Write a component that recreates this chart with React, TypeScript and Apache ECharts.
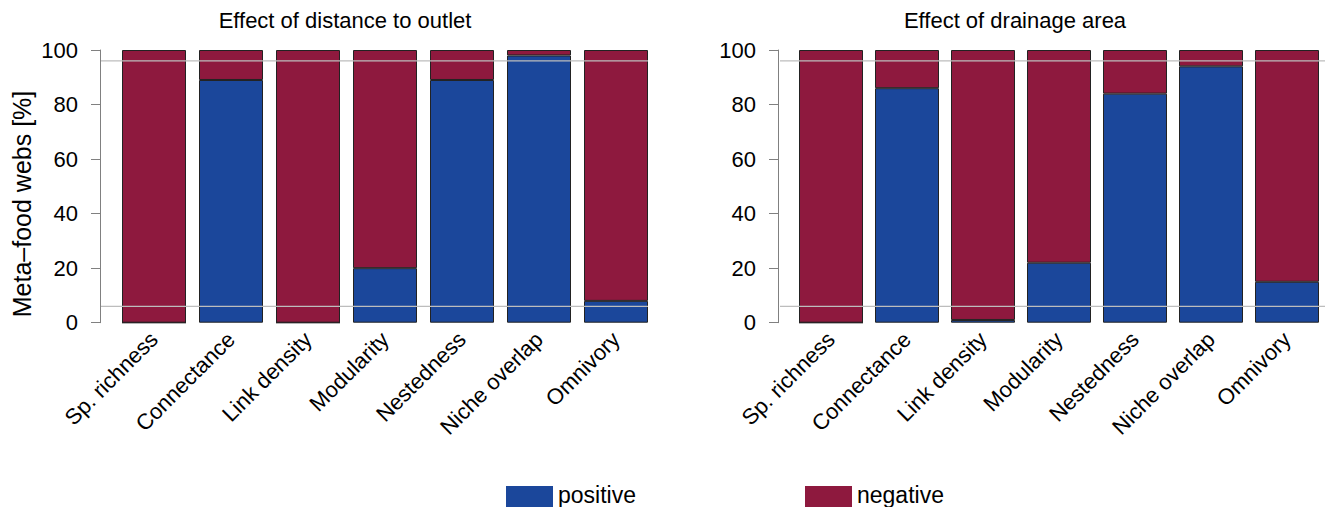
import React, { useEffect, useRef } from "react";
import * as echarts from "echarts";

const categories = [
  "Sp. richness",
  "Connectance",
  "Link density",
  "Modularity",
  "Nestedness",
  "Niche overlap",
  "Omnivory",
];

const distancePositive = [0, 89, 0, 20, 89, 98, 8];
const distanceNegative = [100, 11, 100, 80, 11, 2, 92];

const drainagePositive = [0, 86, 1, 22, 84, 94, 15];
const drainageNegative = [100, 14, 99, 78, 16, 6, 85];

const refLineValues = [96, 6];

const yTicks = { min: 0, max: 100, interval: 20 };

const titles = ["Effect of distance to outlet", "Effect of drainage area"];
const yAxisTitle = "Meta–food webs [%]";

const FONT = "'Liberation Sans', Arial, Helvetica, sans-serif";
const BLUE = "#1B479B";
const RED = "#8E193E";

// legend swatch: a 47x30 box, with an invisible zero-area mark above it so the
// label sits a little higher than the box centre (as in the reference)
const LEGEND_ICON = "path://M23,-12 L24,-12 L23.5,-12 Z M0,0 L47,0 L47,30 L0,30 Z";

export default function App() {
  const ref = useRef<HTMLDivElement>(null);

  useEffect(() => {
    if (!ref.current) return;
    const chart = echarts.init(ref.current, null, { renderer: "svg" });

    const plotTop = 50;
    const plotHeight = 272.7;

    const mainGrids = [
      { left: 115.5, top: plotTop, width: 539, height: plotHeight },
      { left: 793, top: plotTop, width: 539, height: plotHeight },
    ];
    const lineGrids = [
      { left: 101, top: plotTop, width: 547, height: plotHeight },
      { left: 780, top: plotTop, width: 545, height: plotHeight },
    ];

    const catAxis = (gridIndex: number) => ({
      type: "category",
      gridIndex,
      data: categories,
      axisLine: { show: false },
      axisTick: { show: false },
      axisLabel: {
        rotate: 45,
        margin: 13,
        fontSize: 22,
        fontFamily: FONT,
        color: "#000",
        interval: 0,
      },
    });

    const valAxis = (gridIndex: number, offset: number) => ({
      type: "value",
      gridIndex,
      min: yTicks.min,
      max: yTicks.max,
      interval: yTicks.interval,
      offset,
      splitLine: { show: false },
      axisLine: { show: true, lineStyle: { color: "#808080", width: 1 } },
      axisTick: { show: true, length: 9, lineStyle: { color: "#808080", width: 1 } },
      axisLabel: { margin: 22, fontSize: 22, fontFamily: FONT, color: "#000" },
    });

    const hiddenX = (gridIndex: number) => ({
      type: "value",
      gridIndex,
      min: 0,
      max: 1,
      show: false,
    });
    const hiddenY = (gridIndex: number) => ({
      type: "value",
      gridIndex,
      min: yTicks.min,
      max: yTicks.max,
      show: false,
    });

    const barStyle = (color: string) => ({
      color,
      borderColor: "#222",
      borderWidth: 1,
    });

    const barSeries = (
      name: string,
      data: number[],
      axisIndex: number,
      stack: string,
      color: string
    ) => ({
      name,
      type: "bar",
      stack,
      xAxisIndex: axisIndex,
      yAxisIndex: axisIndex,
      data,
      barWidth: 64,
      itemStyle: barStyle(color),
      z: 2,
    });

    const refSeries: any[] = [];
    [2, 3].forEach((axisIndex) => {
      refLineValues.forEach((v) => {
        refSeries.push({
          name: "ref",
          type: "line",
          xAxisIndex: axisIndex,
          yAxisIndex: axisIndex,
          data: [
            [0, v],
            [1, v],
          ],
          symbol: "none",
          silent: true,
          lineStyle: { color: "#bdbdbd", width: 1.2 },
          z: 5,
        });
      });
    });

    const legendCommon = {
      top: 469,
      itemWidth: 47,
      itemHeight: 42,
      icon: LEGEND_ICON,
      selectedMode: false,
      itemStyle: { borderWidth: 0 },
      textStyle: {
        fontSize: 23,
        fontFamily: FONT,
        color: "#000",
      },
    };

    const option: any = {
      animation: false,
      backgroundColor: "#fff",
      title: [
        {
          text: titles[0],
          left: 340,
          top: 4,
          textAlign: "center",
          textStyle: { fontSize: 22, fontWeight: "normal", fontFamily: FONT, color: "#000" },
        },
        {
          text: titles[1],
          left: 1010,
          top: 4,
          textAlign: "center",
          textStyle: { fontSize: 22, fontWeight: "normal", fontFamily: FONT, color: "#000" },
        },
      ],
      legend: [
        { ...legendCommon, data: ["positive"], left: 501 },
        { ...legendCommon, data: ["negative"], left: 800 },
      ],
      grid: [...mainGrids, ...lineGrids],
      xAxis: [catAxis(0), catAxis(1), hiddenX(2), hiddenX(3)],
      yAxis: [valAxis(0, 15.5), valAxis(1, 15), hiddenY(2), hiddenY(3)],
      series: [
        barSeries("positive", distancePositive, 0, "d", BLUE),
        barSeries("negative", distanceNegative, 0, "d", RED),
        barSeries("positive", drainagePositive, 1, "a", BLUE),
        barSeries("negative", drainageNegative, 1, "a", RED),
        ...refSeries,
      ],
      graphic: [
        {
          type: "text",
          x: 22,
          y: 204,
          rotation: Math.PI / 2,
          style: {
            text: yAxisTitle,
            fontSize: 25,
            fontFamily: FONT,
            fill: "#000",
            align: "center",
            verticalAlign: "middle",
          },
        },
      ],
    };

    chart.setOption(option);
    return () => chart.dispose();
  }, []);

  return (
    <div
      ref={ref}
      style={{ position: "absolute", left: 0, top: 0, width: 1325, height: 507 }}
    />
  );
}
